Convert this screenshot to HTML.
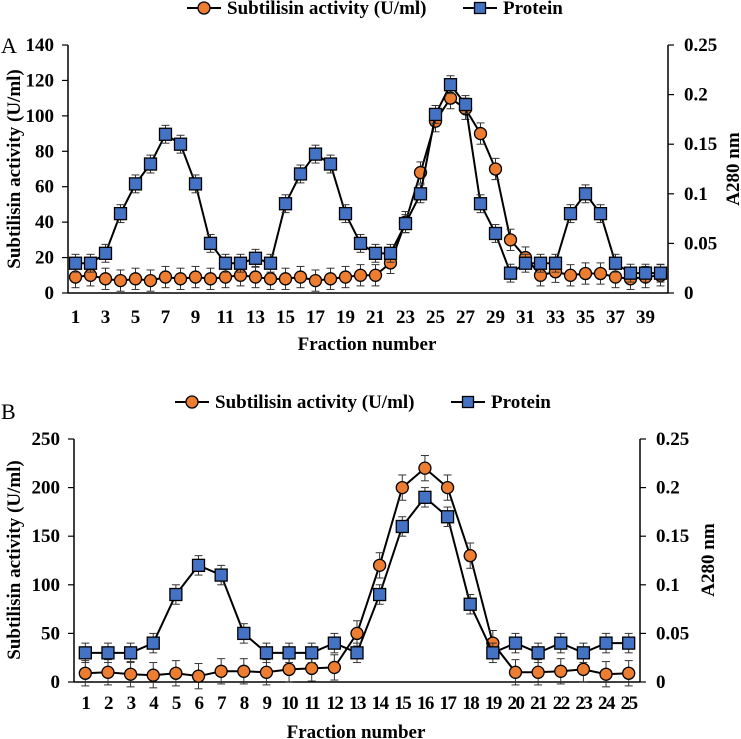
<!DOCTYPE html>
<html><head><meta charset="utf-8"><style>
html,body{margin:0;padding:0;background:#fff;}
svg{display:block;font-family:"Liberation Serif",serif;font-weight:bold;}
</style></head><body>
<svg id="svg" width="741" height="739" viewBox="0 0 741 739" xmlns="http://www.w3.org/2000/svg"></svg>
<script>
const actA = [9,10,8,7,8,7,9,8,9,8,9,10,9,8,8,9,7,8,9,10,10,17,40,68,97,110,104,90,70,30,20,10,12,10,11,11,9,8,9,10];
const protA = [0.03,0.03,0.04,0.08,0.11,0.13,0.16,0.15,0.11,0.05,0.03,0.03,0.035,0.03,0.09,0.12,0.14,0.13,0.08,0.05,0.04,0.04,0.07,0.1,0.18,0.21,0.19,0.09,0.06,0.02,0.03,0.03,0.03,0.08,0.1,0.08,0.03,0.02,0.02,0.02];
const actB = [9,10,8,7,9,6,11,11,10,13,14,15,50,120,200,220,200,130,40,10,10,11,13,8,9];
const protB = [0.03,0.03,0.03,0.04,0.09,0.12,0.11,0.05,0.03,0.03,0.03,0.04,0.03,0.09,0.16,0.19,0.17,0.08,0.03,0.04,0.03,0.04,0.03,0.04,0.04];
const leftTicksA = [0,20,40,60,80,100,120,140];
const leftTicksB = [0,50,100,150,200,250];
const rightTicks = ["0","0.05","0.1","0.15","0.2","0.25"];
const rightVals = [0,0.05,0.1,0.15,0.2,0.25];

const NS="http://www.w3.org/2000/svg";
const svg=document.getElementById('svg');
function mk(tag,attrs,parent,text){const e=document.createElementNS(NS,tag);for(const k in attrs)e.setAttribute(k,attrs[k]);if(text!==undefined)e.textContent=text;(parent||svg).appendChild(e);return e;}

function panel(o){
  const g=mk('g',{});
  
  
  const n=o.act.length, step=(o.x1-o.x0)/n;
  const xs=i=>o.x0+step*(i+0.5);
  const yl=v=>o.y0-(v/o.lmax)*(o.y0-o.yTop);
  const yr=v=>o.y0-(v/0.25)*(o.y0-o.yTop);
  let a=mk('line',{x1:o.x0,y1:o.yTop,x2:o.x0,y2:o.y0,stroke:'#000','stroke-width':1.5},g);
  
  a=mk('line',{x1:o.x1,y1:o.yTop,x2:o.x1,y2:o.y0,stroke:'#000','stroke-width':1.5},g);
  
  a=mk('line',{x1:o.x0,y1:o.y0,x2:o.x1,y2:o.y0,stroke:'#000','stroke-width':1.5},g);
  
  o.lticks.forEach(v=>{
    mk('line',{x1:o.x0-6,y1:yl(v),x2:o.x0,y2:yl(v),stroke:'#000','stroke-width':1.2},g);
    const t=mk('text',{x:o.x0-14,y:yl(v)+6,'text-anchor':'end','font-size':19},g,String(v));
    
  });
  rightVals.forEach((v,i)=>{
    mk('line',{x1:o.x1,y1:yr(v),x2:o.x1+6,y2:yr(v),stroke:'#000','stroke-width':1.2},g);
    const t=mk('text',{x:o.x1+16,y:yr(v)+6,'font-size':19},g,rightTicks[i]);
    
  });
  for(let i=0;i<n;i++){
    if(o.every===2 && i%2===1) continue;
    const t=mk('text',{x:xs(i),y:o.y0+o.tky,'text-anchor':'middle','font-size':19,'letter-spacing':o.ls||0},g,String(i+1));
    
  }
  let t=mk('text',{x:o.xtx,y:o.xty,'text-anchor':'middle','font-size':19},g,'Fraction number');
  
  t=mk('text',{x:0,y:0,'text-anchor':'middle','font-size':19,transform:`translate(${o.ltx},${o.lty}) rotate(-90)`},g,'Subtilisin activity (U/ml)');
  
  t=mk('text',{x:0,y:0,'text-anchor':'middle','font-size':19,transform:`translate(${o.rtx},${o.lty}) rotate(-90)`},g,'A280 nm');
  
  t=mk('text',{x:o.px,y:o.py,'font-size':22,'font-weight':'normal'},g,o.label);
  
  const lg=mk('g',{},g);
  
  mk('line',{x1:o.lx-17,y1:o.ly,x2:o.lx+17,y2:o.ly,stroke:'#000','stroke-width':2},lg);
  mk('circle',{cx:o.lx,cy:o.ly,r:6,fill:'#ED7D31',stroke:'#000','stroke-width':1.3},lg);
  t=mk('text',{x:o.lx+23,y:o.ly+6,'font-size':19},lg,'Subtilisin activity (U/ml)');
  
  mk('line',{x1:o.sx-17,y1:o.ly,x2:o.sx+17,y2:o.ly,stroke:'#000','stroke-width':2},lg);
  mk('rect',{x:o.sx-5.5,y:o.ly-5.5,width:11,height:11,fill:'#4472C4',stroke:'#000','stroke-width':1.3},lg);
  t=mk('text',{x:o.sx+23,y:o.ly+6,'font-size':19},lg,'Protein');
  
  function errbar(x,y,e){
    mk('line',{x1:x,y1:y-e,x2:x,y2:y+e,stroke:'#333','stroke-width':1},g);
    mk('line',{x1:x-4,y1:y-e,x2:x+4,y2:y-e,stroke:'#333','stroke-width':1},g);
    mk('line',{x1:x-4,y1:y+e,x2:x+4,y2:y+e,stroke:'#333','stroke-width':1},g);
  }
  let p=mk('polyline',{points:o.act.map((v,i)=>xs(i)+','+yl(v)).join(' '),fill:'none',stroke:'#000','stroke-width':2},g);
  
  o.act.forEach((v,i)=>{errbar(xs(i),yl(v),(o.y0-o.yTop)*o.ae/o.lmax);
    const c=mk('circle',{cx:xs(i),cy:yl(v),r:o.r,fill:'#ED7D31',stroke:'#000','stroke-width':1.3},g);
    });
  p=mk('polyline',{points:o.prot.map((v,i)=>xs(i)+','+yr(v)).join(' '),fill:'none',stroke:'#000','stroke-width':2},g);
  
  o.prot.forEach((v,i)=>{errbar(xs(i),yr(v),(o.y0-o.yTop)*o.pe/0.25);
    const s=mk('rect',{x:xs(i)-o.r,y:yr(v)-o.r,width:o.r*2,height:o.r*2,fill:'#4472C4',stroke:'#000','stroke-width':1.3},g);
    });
}
panel({name:'panel-a',act:actA,prot:protA,x0:68,x1:668,y0:293,yTop:45,lmax:140,lticks:leftTicksA,every:2,tky:30,
  xtx:367,xty:350,ltx:20,lty:169,rtx:739,px:1,py:53,label:'A',lx:204,sx:480,ly:8,ae:6,pe:0.009,r:6});
panel({name:'panel-b',act:actB,prot:protB,x0:74,x1:640,y0:682,yTop:439,lmax:250,lticks:leftTicksB,every:1,ls:-1.5,tky:27,
  xtx:356,xty:738,ltx:20,lty:560,rtx:714,px:1,py:419,label:'B',lx:192,sx:468,ly:402,ae:13,pe:0.01,r:6});
</script>
</body></html>
